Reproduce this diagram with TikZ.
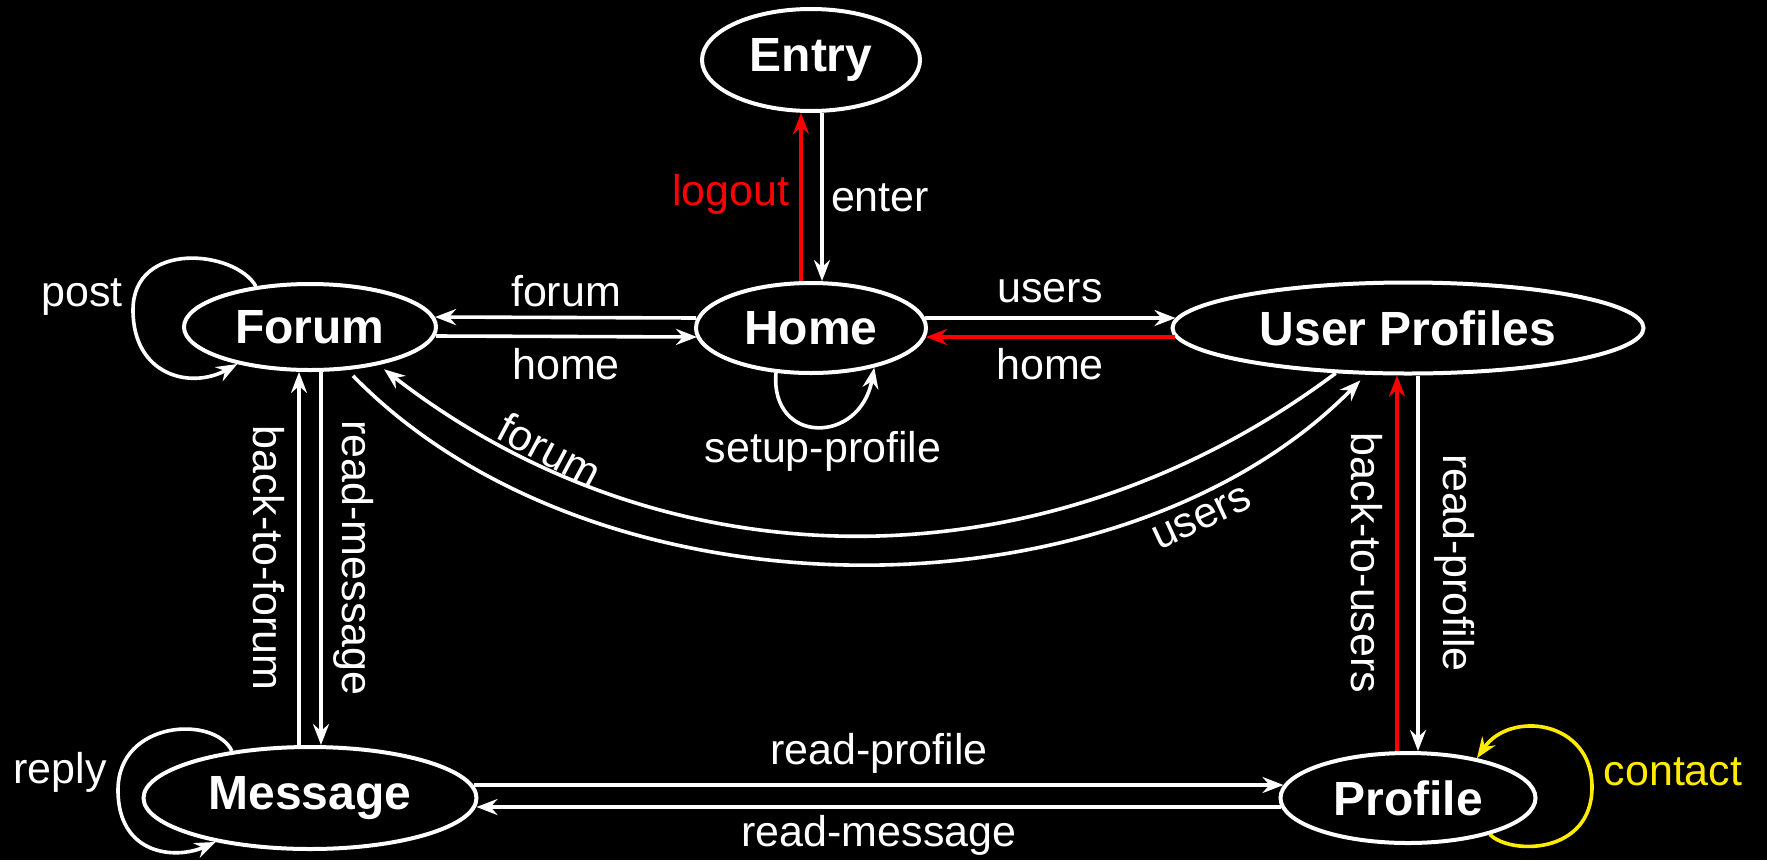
\documentclass[tikz,border=0pt]{standalone}
\usepackage{fontspec}
\setmainfont{Liberation Sans}
\usetikzlibrary{shapes.geometric,arrows.meta}
\definecolor{yel}{RGB}{255,235,0}
\begin{document}
\begin{tikzpicture}[x=1pt,y=-1pt,
  state/.style={ellipse, draw=white, line width=4pt, fill=black, text=white, inner sep=0pt,
    font=\fontsize{48}{58}\selectfont\bfseries},
  edge/.style={draw=white, line width=3.6pt, -{Stealth[length=21pt,width=16pt,inset=7pt]}},
  redge/.style={edge, draw=red},
  yedge/.style={edge, draw=yel},
  lbl/.style={text=white, inner sep=0pt, font=\fontsize{43}{52}\selectfont},
]
\useasboundingbox (0,0) rectangle (1767,860);
\fill[black] (0,0) rectangle (1767,860);

% states
\node[state, minimum width=218pt, minimum height=102pt] (entry)   at (811,60)   {Entry};
\node[state, minimum width=230pt, minimum height=90pt]  (home)    at (811,328)  {Home};
\node[state, minimum width=252pt, minimum height=86pt]  (forum)   at (310,327)  {Forum};
\node[state, minimum width=471pt, minimum height=91pt]  (users)   at (1408,328) {User Profiles};
\node[state, minimum width=333pt, minimum height=102pt] (message) at (310,798)  {Message};
\node[state, minimum width=255pt, minimum height=90pt]  (profile) at (1408,798) {Profile};

% Entry <-> Home
\draw[redge] ([xshift=-10pt]home.north) -- ([xshift=-10pt]entry.south);
\draw[edge]  ([xshift=11pt]entry.south) -- ([xshift=11pt]home.north);
\node[lbl, text=red] (llogout) at (731,194) {logout};
\node[lbl] (lenter) at (880,198) {enter};

% Home <-> Forum
\draw[edge] ([yshift=10pt,xshift=2pt]home.west) -- ([yshift=10pt,xshift=-3pt]forum.east);
\draw[edge] ([yshift=-9pt,xshift=-2pt]forum.east) -- ([yshift=-9pt,xshift=3pt]home.west);
\node[lbl] (lforum1) at (566,291) {forum};
\node[lbl] (lhome1)  at (566,364) {home};

% Home <-> User Profiles
\draw[edge]  ([yshift=10pt,xshift=-3pt]home.east) -- ([yshift=10pt,xshift=5pt]users.west);
\draw[redge] ([yshift=-9pt,xshift=4pt]users.west) -- ([yshift=-9pt,xshift=-2pt]home.east);
\node[lbl] (lusers1) at (1050,291) {users};
\node[lbl] (lhome2)  at (1050,364) {home};

% Home self loop
\draw[edge] (home.-128.5) .. controls (770,445) and (860,445) .. (home.-32.6);
\node[lbl] (lsetup) at (823,451) {setup-profile};

% Forum <-> User Profiles (curved)
\draw[edge, shorten <=8pt, shorten >=8pt] (forum.-49) .. controls (597,626) and (1118,626) .. (users.-132);
\draw[edge, shorten >=7pt] (users.-148) .. controls (1046,590) and (669,590) .. (forum.-29);
\node[lbl, rotate=-28] (lforum2) at (550,450) {forum};
\node[lbl, rotate=25]  (lusers2) at (1202,518) {users};

% Forum self loop
\coordinate (postpt) at (133,310);
\draw[edge] (forum.143) .. controls (235,250) and (133,240) .. (postpt)
  .. controls (133,375) and (190,390) .. (forum.-153);
\node[lbl] (lpost) at (82,297) {post};

% Forum <-> Message
\draw[edge] ([xshift=-11pt]message.north) -- ([xshift=-11pt]forum.south);
\draw[edge] ([xshift=11pt]forum.south) -- ([xshift=11pt]message.north);
\node[lbl, rotate=-90] (lbackforum) at (269,558) {back-to-forum};
\node[lbl, rotate=-90] (lreadmsg1)  at (354,558) {read-message};

% User Profiles <-> Profile
\draw[redge] ([xshift=-11pt]profile.north) -- ([xshift=-11pt]users.south);
\draw[edge]  ([xshift=10pt]users.south) -- ([xshift=10pt]profile.north);
\node[lbl, rotate=-90] (lbackusers) at (1367,563) {back-to-users};
\node[lbl, rotate=-90] (lreadprof1) at (1455,563) {read-profile};

% Message <-> Profile
\draw[edge] ([yshift=13pt,xshift=-5pt]message.east) -- ([yshift=13pt,xshift=5pt]profile.west);
\draw[edge] ([yshift=-9pt,xshift=2pt]profile.west) -- ([yshift=-9pt,xshift=-2pt]message.east);
\node[lbl] (lreadprof2) at (879,753) {read-profile};
\node[lbl] (lreadmsg2)  at (879,835) {read-message};

% Message self loop
\coordinate (replypt) at (118,790);
\draw[edge] (message.149) .. controls (215,715) and (118,720) .. (replypt)
  .. controls (118,855) and (175,860) .. (message.-155);
\node[lbl] (lreply) at (60,772) {reply};

% Profile self loop
\coordinate (contactpt) at (1592,787);
\draw[yedge] (profile.-24.5) .. controls (1510,855) and (1592,855) .. (contactpt)
  .. controls (1592,720) and (1510,710) .. (profile.30.6);
\node[lbl, text=yel] (lcontact) at (1673,772) {contact};
\end{tikzpicture}
\end{document}
